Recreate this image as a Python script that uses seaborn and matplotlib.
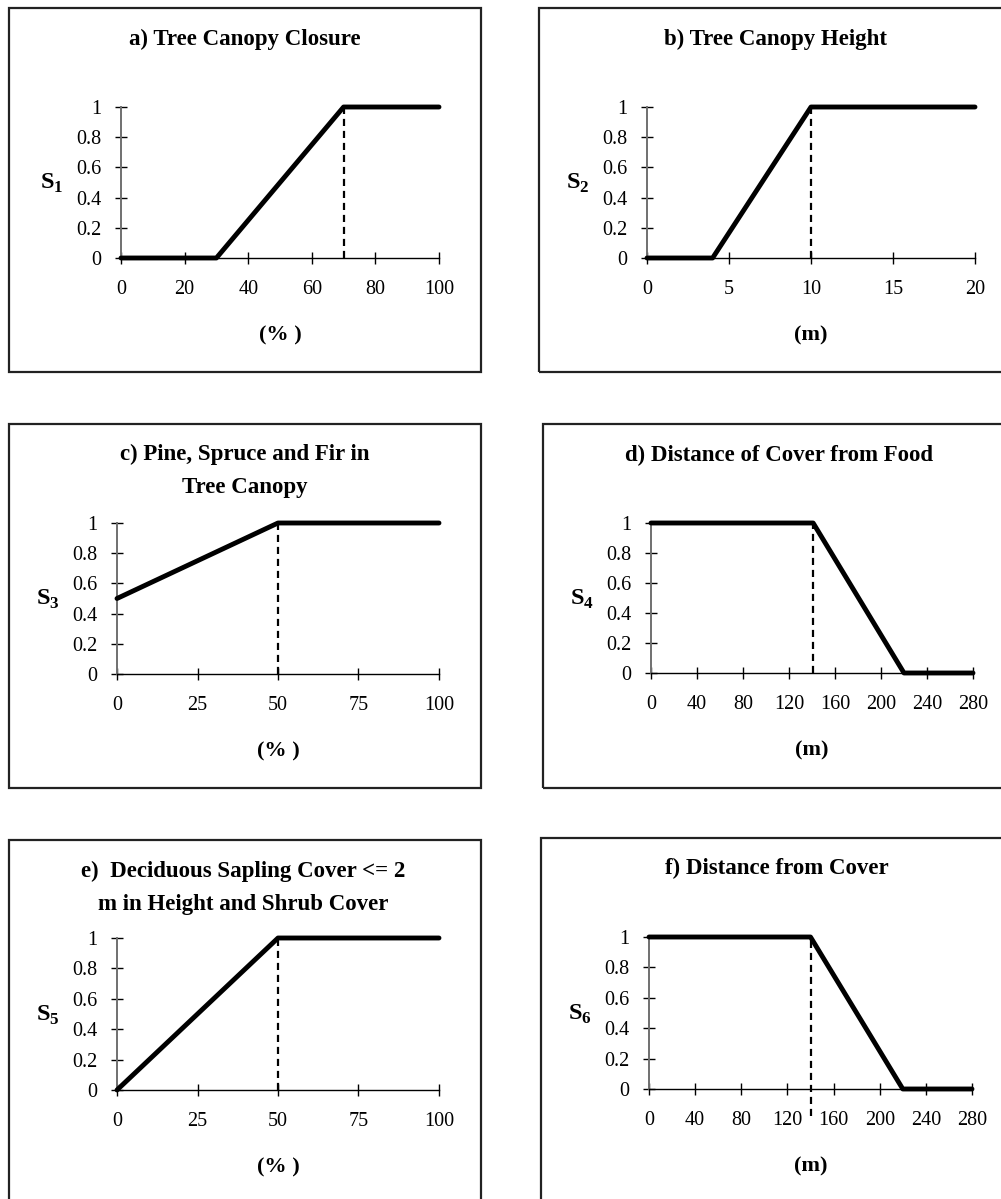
import matplotlib
matplotlib.use('Agg')
import matplotlib.pyplot as plt
import matplotlib.patches as patches
from matplotlib.ticker import FuncFormatter
import seaborn as sns
import pandas as pd

# --- data ---
a_x = [0, 30, 70, 100]
a_y = [0, 0, 1, 1]
b_x = [0, 4, 10, 20]
b_y = [0, 0, 1, 1]
c_x = [0, 50, 100]
c_y = [0.5, 1, 1]
d_x = [0, 141, 220, 280]
d_y = [1, 1, 0, 0]
e_x = [0, 50, 100]
e_y = [0, 1, 1]
f_x = [0, 140, 220, 280]
f_y = [1, 1, 0, 0]

# x position of the dashed marker line in each panel
breaks = [70, 10, 50, 141, 50, 140]

titles = ["a) Tree Canopy Closure",
          "b) Tree Canopy Height",
          "c) Pine, Spruce and Fir in\nTree Canopy",
          "d) Distance of Cover from Food",
          "e)  Deciduous Sapling Cover <= 2\nm in Height and Shrub Cover",
          "f) Distance from Cover"]
units = ["(% )", "(m)", "(% )", "(m)", "(% )", "(m)"]
s_labels = ["1", "2", "3", "4", "5", "6"]
xticks_list = [[0, 20, 40, 60, 80, 100],
               [0, 5, 10, 15, 20],
               [0, 25, 50, 75, 100],
               [0, 40, 80, 120, 160, 200, 240, 280],
               [0, 25, 50, 75, 100],
               [0, 40, 80, 120, 160, 200, 240, 280]]
yticks = [0, 0.2, 0.4, 0.6, 0.8, 1]

series = [(a_x, a_y), (b_x, b_y), (c_x, c_y), (d_x, d_y), (e_x, e_y), (f_x, f_y)]

# --- layout in pixels (x_left, x_right, y_of_0, y_of_1) ---
W, H = 1001, 1199
axes_px = [(121, 439, 258, 107),
           (647, 975, 258, 107),
           (117, 439, 674, 523),
           (651, 973, 673, 523),
           (117, 439, 1090, 938),
           (649, 972, 1089, 937)]
boxes_px = [(9, 8, 481, 372),
            (539, 8, 1011, 372),
            (9, 424, 481, 788),
            (543, 424, 1015, 788),
            (9, 840, 481, 1230),
            (541, 838, 1013, 1230)]
title_px = [(245, 39), (775, 39), (245, 471), (779, 455), (243, 888), (777, 868)]

sns.set_theme(style='white')
plt.rcParams['font.family'] = ['Liberation Serif', 'DejaVu Serif']
plt.rcParams['mathtext.fontset'] = 'custom'
plt.rcParams['mathtext.rm'] = 'Liberation Serif'
plt.rcParams['mathtext.bf'] = 'Liberation Serif:bold'

fig = plt.figure(figsize=(W / 100, H / 100), dpi=100)

for i in range(6):
    x0, x1, y0, y1 = axes_px[i]
    ax = fig.add_axes([x0 / W, 1 - y0 / H, (x1 - x0) / W, (y0 - y1) / H])
    xs, ys = series[i]
    df = pd.DataFrame({'x': xs, 'y': ys})
    sns.lineplot(data=df, x='x', y='y', color='black', lw=3.5, estimator=None,
                 sort=False, ax=ax, clip_on=False, zorder=5)

    # dashed drop line
    bx = breaks[i]
    y_low = -0.18 if i == 5 else 0
    ax.plot([bx, bx], [y_low, 1], color='black', lw=1.6, linestyle=(0, (3.2, 2.2)),
            clip_on=False, zorder=4)

    xt = xticks_list[i]
    ax.set_xlim(xt[0], xt[-1])
    ax.set_ylim(0, 1)
    ax.set_xticks(xt)
    ax.set_yticks(yticks)
    ax.yaxis.set_major_formatter(FuncFormatter(lambda v, p: f'{v:g}'))
    ax.tick_params(axis='both', direction='inout', length=8, width=1, color='black',
                   labelsize=14.5, labelcolor='black')
    ax.tick_params(axis='x', pad=11.5)
    ax.tick_params(axis='y', pad=10)
    ax.tick_params(left=True, bottom=True)
    for side in ('top', 'right'):
        ax.spines[side].set_visible(False)
    ax.spines['left'].set_color('#707070')
    ax.spines['left'].set_linewidth(1.4)
    ax.spines['bottom'].set_color('black')
    ax.spines['bottom'].set_linewidth(1.0)
    ax.set_xlabel('')
    ax.set_ylabel('')
    ax.set_facecolor('none')

    # y label "S n" left of the axis
    yc = (y0 + y1) / 2 + 1
    fig.text((x0 - 69) / W, 1 - yc / H, r'$\mathbf{S}_{\mathbf{' + s_labels[i] + '}}$',
             ha='center', va='center', fontsize=17.5, color='black')
    # unit label under the axis
    fig.text(((x0 + x1) / 2) / W, 1 - (y0 + 77) / H, units[i], ha='center', va='center',
             fontsize=16, fontweight='bold', color='black')

    tx, ty = title_px[i]
    fig.text(tx / W, 1 - ty / H, titles[i], ha='center', va='center', fontsize=16.5,
             fontweight='bold', color='black', linespacing=1.75)

    bl, bt, br, bb = boxes_px[i]
    fig.add_artist(patches.Rectangle((bl / W, 1 - bb / H), (br - bl) / W, (bb - bt) / H,
                                     transform=fig.transFigure, fill=False,
                                     edgecolor='#222222', lw=1.6))

fig.savefig('out.png', dpi=100)
